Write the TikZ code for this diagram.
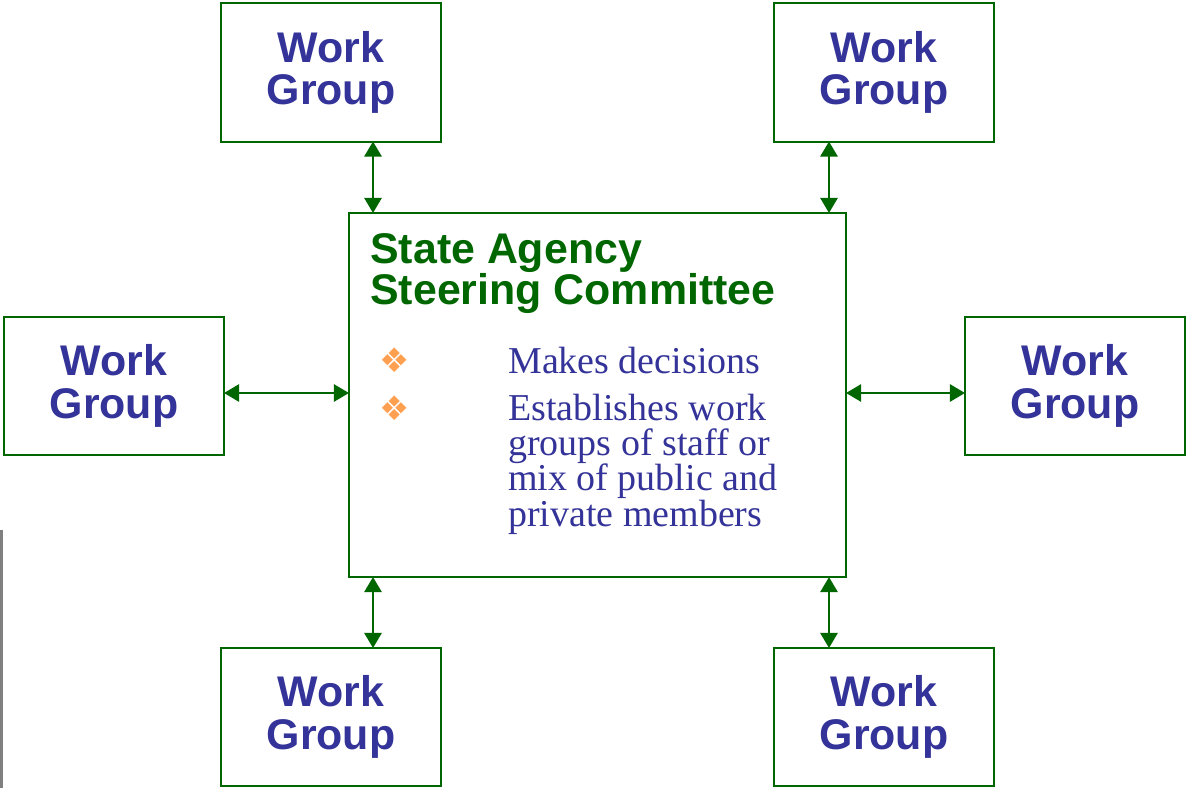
\documentclass[tikz,border=0pt]{standalone}
\usepackage{fontspec}
\setmainfont{Liberation Serif}
\setsansfont{Liberation Sans}
\newfontfamily\symfont{DejaVu Sans}
\usetikzlibrary{arrows.meta}
\definecolor{wgblue}{RGB}{51,51,153}
\definecolor{sgreen}{RGB}{0,102,0}
\definecolor{bulorange}{RGB}{255,160,80}
\begin{document}
\begin{tikzpicture}[x=0.025cm,y=-0.025cm,>={Triangle[length=0.375cm,width=0.43cm]},
	wg/.style={draw=sgreen,line width=1.4pt,minimum width=5.5cm,minimum height=3.45cm,outer sep=0pt,font=\sffamily\bfseries\fontsize{30.5}{30}\selectfont,text=wgblue,align=center},
	item/.style={anchor=base west,inner sep=0pt,font=\fontsize{27}{24.9}\selectfont,text=wgblue,align=left},
	bul/.style={text=bulorange,font=\symfont\fontsize{24}{24}\selectfont,inner sep=0pt},
	link/.style={<->,draw=sgreen,line width=1.4pt}]
	\useasboundingbox (0,0) rectangle (1186,788);
	\node[draw=sgreen,line width=1.4pt,minimum width=12.425cm,minimum height=9.1cm,outer sep=0pt] (sc) at (597.5,395) {};
	\node[wg] (wg1) at (331,72.5) {Work\\Group};
	\node[wg] (wg2) at (884,72.5) {Work\\Group};
	\node[wg] (wg3) at (114,386) {Work\\Group};
	\node[wg] (wg4) at (1075,386) {Work\\Group};
	\node[wg] (wg5) at (331,717) {Work\\Group};
	\node[wg] (wg6) at (884,717) {Work\\Group};
	\node[anchor=base west,inner sep=0pt,align=left,text=sgreen,font=\sffamily\bfseries\fontsize{30.5}{28.5}\selectfont] (title) at (370,305) {State Agency\\Steering Committee};
	\node[bul] (b1) at (395,360) {❖};
	\node[bul] (b2) at (395,408) {❖};
	\node[item] (it1) at (508,373) {Makes decisions};
	\node[item] (it2) at (508,526) {Establishes work\\groups of staff or\\mix of public and\\private members};
	\coordinate (xl) at (373,0);
	\coordinate (xr) at (829,0);
	\coordinate (ym) at (0,393);
	\draw[link] (wg1.south -| xl) -- (sc.north -| xl);
	\draw[link] (wg2.south -| xr) -- (sc.north -| xr);
	\draw[link] (wg3.east |- ym) -- (sc.west |- ym);
	\draw[link] (sc.east |- ym) -- (wg4.west |- ym);
	\draw[link] (sc.south -| xl) -- (wg5.north -| xl);
	\draw[link] (sc.south -| xr) -- (wg6.north -| xr);
	\draw[gray,line width=2.1pt] (1.5,530) -- (1.5,788);
\end{tikzpicture}
\end{document}
